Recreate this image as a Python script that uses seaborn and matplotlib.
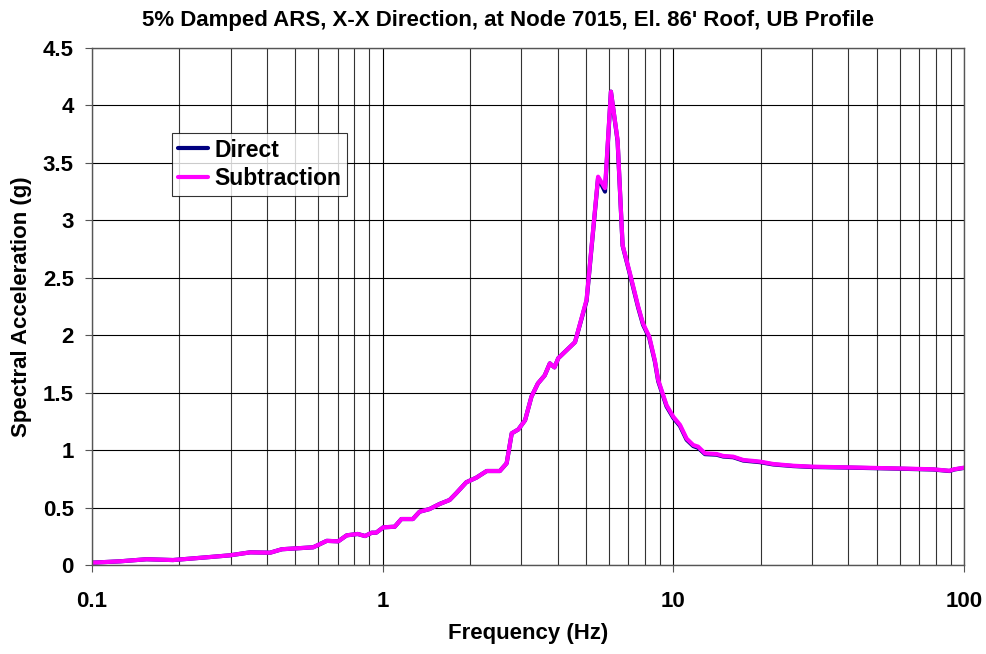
import matplotlib
matplotlib.use("Agg")
import matplotlib.pyplot as plt
import matplotlib.ticker as mticker
import numpy as np
import pandas as pd
import seaborn as sns

# frequencies (Hz) and spectral acceleration (g)
freq = [0.1, 0.125, 0.154, 0.19, 0.248, 0.298, 0.35, 0.41, 0.45, 0.577,
        0.642, 0.703, 0.752, 0.82, 0.87, 0.917, 0.95, 1.005, 1.1, 1.16,
        1.27, 1.34, 1.45, 1.57, 1.70, 1.79, 1.94, 2.10, 2.28, 2.53,
        2.67, 2.78, 2.93, 3.09, 3.25, 3.42, 3.61, 3.76, 3.9, 4.02,
        4.59, 5.03, 5.51, 5.82, 6.10, 6.43, 6.69, 7.09, 7.57, 7.87,
        8.26, 8.64, 8.87, 9.48, 10.0, 10.54, 11.11, 11.71, 12.17, 12.85,
        14.09, 14.85, 16.07, 17.4, 19.86, 22.08, 25.8, 29.9, 39.5, 60.3,
        78.4, 89.1, 92.5, 100]
subtraction = [0.02, 0.032, 0.05, 0.043, 0.067, 0.084, 0.11, 0.107, 0.137, 0.154,
               0.21, 0.206, 0.258, 0.27, 0.252, 0.281, 0.281, 0.328, 0.333, 0.40,
               0.40, 0.464, 0.487, 0.531, 0.566, 0.624, 0.72, 0.76, 0.818, 0.818,
               0.885, 1.146, 1.18, 1.26, 1.465, 1.58, 1.65, 1.755, 1.72, 1.80,
               1.94, 2.31, 3.38, 3.28, 4.12, 3.70, 2.785, 2.54, 2.25, 2.10,
               1.99, 1.78, 1.61, 1.39, 1.29, 1.22, 1.10, 1.044, 1.03, 0.972,
               0.966, 0.949, 0.943, 0.914, 0.90, 0.879, 0.864, 0.856, 0.85, 0.84,
               0.833, 0.82, 0.833, 0.847]
direct = [0.02, 0.032, 0.05, 0.043, 0.067, 0.084, 0.11, 0.107, 0.137, 0.154,
          0.21, 0.206, 0.258, 0.27, 0.252, 0.281, 0.281, 0.328, 0.333, 0.40,
          0.40, 0.464, 0.487, 0.531, 0.566, 0.624, 0.72, 0.76, 0.818, 0.818,
          0.885, 1.146, 1.18, 1.26, 1.465, 1.58, 1.65, 1.755, 1.72, 1.80,
          1.94, 2.30, 3.37, 3.25, 4.12, 3.69, 2.78, 2.53, 2.24, 2.09,
          1.98, 1.77, 1.60, 1.38, 1.28, 1.21, 1.09, 1.035, 1.02, 0.965,
          0.96, 0.944, 0.938, 0.909, 0.895, 0.875, 0.861, 0.853, 0.848, 0.838,
          0.831, 0.818, 0.831, 0.845]

df = pd.DataFrame({
    "freq": freq * 2,
    "acc": direct + subtraction,
    "series": ["Direct"] * len(freq) + ["Subtraction"] * len(freq),
})

sns.set_style("white")
plt.rcParams["font.family"] = ["Liberation Sans", "DejaVu Sans"]
plt.rcParams["font.weight"] = "bold"
plt.rcParams["text.color"] = "black"
plt.rcParams["axes.labelcolor"] = "black"
plt.rcParams["xtick.color"] = "black"
plt.rcParams["ytick.color"] = "black"

fig = plt.figure(figsize=(9.87, 6.54), dpi=100)
ax = fig.add_axes([0.0932, 0.1361, 0.8835, 0.7905])

sns.lineplot(
    data=df, x="freq", y="acc", hue="series",
    palette={"Direct": "#000080", "Subtraction": "#FF00FF"},
    linewidth=3, sort=False, ax=ax,
)

ax.set_xscale("log")
ax.set_xlim(0.1, 100)
ax.set_ylim(0, 4.5)
ax.set_yticks(np.arange(0, 4.51, 0.5))
ax.yaxis.set_major_formatter(mticker.FuncFormatter(lambda v, p: f"{v:g}"))
ax.xaxis.set_major_formatter(mticker.FuncFormatter(lambda v, p: f"{v:g}"))
ax.xaxis.set_minor_locator(mticker.LogLocator(base=10, subs=np.arange(2, 10)))
ax.xaxis.set_minor_formatter(mticker.NullFormatter())

ax.grid(True, which="major", color="black", linewidth=0.8)
ax.grid(True, which="minor", axis="x", color="#333333", linewidth=0.8)
ax.set_axisbelow(True)
ax.tick_params(axis="y", which="major", labelsize=16, length=5,
               direction="out", left=True, pad=8, color="#555555")
ax.tick_params(axis="x", which="major", labelsize=16, length=5,
               direction="out", bottom=True, pad=14, color="#555555")
ax.tick_params(axis="x", which="minor", length=0)
for t in ax.get_xticklabels() + ax.get_yticklabels():
    t.set_fontweight("bold")
for s in ax.spines.values():
    s.set_color("#555555")
    s.set_linewidth(1.0)

ax.set_xlabel("Frequency (Hz)", fontsize=16, fontweight="bold", labelpad=8)
ax.set_ylabel("Spectral Acceleration (g)", fontsize=16, fontweight="bold", labelpad=8)
ax.set_title("5% Damped ARS, X-X Direction, at Node 7015, El. 86' Roof, UB Profile",
             fontsize=16, fontweight="bold", pad=16, x=0.477)

leg = ax.legend(loc="upper left", bbox_to_anchor=(0.092, 0.836), frameon=True,
                fancybox=False, edgecolor="black", fontsize=16.5,
                handlelength=1.3, handletextpad=0.3, borderpad=0.25,
                labelspacing=0.25, borderaxespad=0)
leg.get_frame().set_linewidth(0.8)
for txt in leg.get_texts():
    txt.set_fontweight("bold")
for line in leg.get_lines():
    line.set_linewidth(3)

fig.savefig("out.png", dpi=100)
